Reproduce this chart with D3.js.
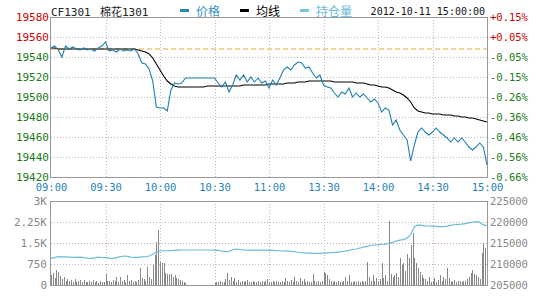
<!DOCTYPE html>
<html>
<head>
<meta charset="utf-8">
<script src="https://cdn.jsdelivr.net/npm/d3@7"></script>
<style>
  body { margin: 0; background: #fff; }
  svg { display: block; }
  text { font-family: "DejaVu Sans Mono", "Noto Sans CJK SC", monospace; }
</style>
</head>
<body>
<div id="chart"></div>
<script>
// minutes of the trading axis: 09:00-11:30 + 13:30-15:00 = 240, drawn evenly
const timeTicks = [0, 30, 60, 90, 120, 150, 180, 210, 240];
const timeLabels = ["09:00", "09:30", "10:00", "10:30", "11:00", "13:30", "14:00", "14:30", "15:00"];

const priceTicks = [19580, 19560, 19540, 19520, 19500, 19480, 19460, 19440, 19420];
const pctLabels = ["+0.15%", "+0.05%", "-0.05%", "-0.15%", "-0.26%", "-0.36%", "-0.46%", "-0.56%", "-0.66%"];
const prevSettle = 19548;

const volTicks = [0, 750, 1500, 2250, 3000];
const volLabels = ["0", "750", "1.5K", "2.25K", "3K"];
const oiTicks = [205000, 210000, 215000, 220000, 225000];
const oiLabels = ["205000", "210000", "215000", "220000", "225000"];

// one value every 2 minutes (121 points)
const price = [
  19549, 19551, 19547, 19540, 19551, 19548, 19550, 19548, 19547, 19549,
  19547, 19548, 19546, 19549, 19551, 19555, 19546, 19547, 19545, 19548,
  19546, 19547, 19546, 19548, 19543, 19534, 19533, 19528, 19516, 19490,
  19489, 19489, 19486, 19507, 19514, 19513, 19514, 19519, 19519, 19519,
  19519, 19519, 19519, 19519, 19519, 19519, 19514, 19510, 19515, 19505,
  19512, 19522, 19517, 19522, 19515, 19520, 19515, 19519, 19514, 19516,
  19509, 19517, 19512, 19519, 19527, 19530, 19527, 19532, 19535, 19534,
  19529, 19530, 19524, 19519, 19522, 19512, 19510, 19509, 19504, 19500,
  19505, 19503, 19509, 19500, 19504, 19500, 19503, 19499, 19495, 19498,
  19494, 19485, 19489, 19487, 19472, 19477, 19467, 19462, 19457, 19436,
  19452, 19465, 19469, 19465, 19462, 19465, 19469, 19465, 19462, 19459,
  19455, 19459, 19455, 19459, 19455, 19450, 19447, 19450, 19454, 19450,
  19432
];
const avgPrice = [
  19549, 19549, 19548, 19548, 19548, 19548, 19548, 19548, 19548, 19548,
  19548, 19548, 19548, 19548, 19548, 19548, 19548, 19548, 19548, 19548,
  19548, 19548, 19548, 19548, 19547, 19546, 19545, 19543, 19539, 19533,
  19527, 19521, 19516, 19513, 19511, 19510, 19510, 19510, 19510, 19510,
  19510, 19510, 19510, 19511, 19511, 19511, 19511, 19511, 19511, 19511,
  19511, 19511, 19511, 19512, 19512, 19512, 19512, 19512, 19512, 19512,
  19513, 19513, 19513, 19513, 19513, 19514, 19514, 19514, 19515, 19515,
  19515, 19516, 19516, 19516, 19516, 19516, 19516, 19516, 19515, 19515,
  19515, 19515, 19515, 19515, 19514, 19514, 19514, 19513, 19512, 19512,
  19511, 19510, 19510, 19509, 19507, 19505, 19504, 19502, 19499, 19495,
  19489, 19486, 19485, 19484, 19484, 19483, 19483, 19483, 19482, 19482,
  19482, 19481, 19481, 19480, 19480, 19479, 19479, 19478, 19477, 19476,
  19475
];
const openInterest = [
  211350, 211500, 211750, 211700, 211700, 211650, 211650, 211600, 211620, 211550,
  211400, 211350, 211450, 211650, 211550, 211500, 211400, 211350, 211500, 211700,
  211900, 211800, 211650, 211600, 211600, 211700, 211750, 211900, 212300, 212800,
  213100, 213150, 213150, 213200, 213250, 213300, 213330, 213330, 213330, 213330,
  213330, 213330, 213330, 213330, 213330, 213300, 213250, 213100, 212950, 213000,
  213400, 213570, 213450, 213350, 213300, 213300, 213280, 213280, 213300, 213280,
  213250, 213250, 213200, 213150, 213100, 213050, 213000, 212930, 212800, 212700,
  212650, 212600, 212550, 212540, 212550, 212600, 212650, 212700, 212750, 212850,
  212950, 213100, 213250, 213450, 213570, 213800, 214000, 214200, 214400, 214520,
  214600, 214700, 214750, 214900, 215150, 215480, 215700, 215800, 216200, 217000,
  218800, 219300, 219200, 219100, 219050, 219000, 218950, 218900, 218880, 219000,
  219200, 219350, 219450, 219500, 219600, 219800, 220000, 220100, 219900, 219300,
  219150
];

// one bar per minute (240 bars), 10:15-10:30 no trading
const volume = [
  350, 420, 260, 530, 470, 330, 200, 270, 160, 210,
  130, 190, 100, 210, 90, 140, 170, 110, 180, 120,
  90, 160, 110, 180, 100, 140, 80, 150, 110, 90,
  390, 130, 160, 100, 180, 130, 270, 110, 300, 130,
  180, 100, 360, 130, 180, 90, 130, 110, 190, 600,
  240, 200, 130, 650, 280, 230, 700, 1070, 1550, 1960,
  830, 780, 780, 420, 400, 400, 380, 300, 340, 250,
  200, 170, 140, 100, 80,
  0, 0, 0, 0, 0, 0, 0, 0, 0, 0, 0, 0, 0, 0, 0,
  80, 120, 90, 150, 110, 100, 200, 420, 180, 300,
  150, 240, 120, 180, 100, 150, 90, 130, 170, 110,
  100, 160, 120, 90, 150, 110, 130, 100, 160, 200,
  120, 90, 150, 100, 130, 110, 90, 160, 120, 260,
  140, 100, 180, 120, 300, 150, 110, 240, 130, 200,
  100, 150, 120, 90, 380, 130, 100, 160, 110, 140,
  475, 420, 360, 200, 150, 100, 130, 90, 150, 110,
  120, 160, 300, 140, 360, 120, 100, 150, 90, 130,
  110, 160, 120, 140, 830, 300, 150, 360, 130, 240,
  160, 200, 775, 250, 360, 150, 2300, 400, 300, 360,
  420, 300, 950, 700, 800, 500, 1100, 950, 1430, 1850,
  950, 800, 600, 450, 360, 240, 200, 150, 300, 120,
  150, 250, 120, 180, 360, 140, 300, 200, 600, 240,
  150, 120, 180, 100, 130, 150, 110, 160, 150, 200,
  300, 420, 535, 400, 360, 300, 200, 1130, 1490, 1310
];

const W = 540, H = 300;
const left = 51, right = 487;
const mainTop = 17, mainBottom = 177;
const subTop = 201, subBottom = 285;

const svg = d3.select("#chart").append("svg")
  .attr("width", W)
  .attr("height", H);

const x = d3.scaleLinear().domain([0, 240]).range([left, right]);
const y = d3.scaleLinear().domain([19420, 19580]).range([mainBottom, mainTop]);
const yVol = d3.scaleLinear().domain([0, 3000]).range([subBottom, subTop]);
const yOi = d3.scaleLinear().domain([205000, 225000]).range([subBottom, subTop]);

const red = "#d20000", green = "#1a7a1a", blue = "#2a7fb8", gray = "#888";

// header
svg.append("text").attr("x", 51).attr("y", 16).attr("font-size", 11).attr("fill", "#222").text("CF1301");
svg.append("text").attr("x", 100).attr("y", 16).attr("font-size", 11).attr("fill", "#222").text("棉花1301");

const legend = [
  { label: "价格", color: "#2a86c0", text: "#3a8fc8", x: 180 },
  { label: "均线", color: "#000", text: "#000", x: 240 },
  { label: "持仓量", color: "#7cc4e4", text: "#6ab8d8", x: 300 }
];
legend.forEach(d => {
  svg.append("rect").attr("x", d.x).attr("y", 9).attr("width", 9).attr("height", 3).attr("fill", d.color);
  svg.append("text").attr("x", d.x + 16).attr("y", 16).attr("font-size", 12)
    .attr("font-family", "Noto Sans CJK SC").attr("fill", d.text).text(d.label);
});
svg.append("text").attr("x", 485).attr("y", 15).attr("text-anchor", "end")
  .attr("font-size", 10).attr("fill", "#111").text("2012-10-11 15:00:00");

// grids
const grid = svg.append("g").attr("shape-rendering", "crispEdges")
  .attr("stroke", "#bbb").attr("stroke-dasharray", "1,2");
grid.selectAll(".hm").data(priceTicks.slice(1, -1)).join("line")
  .attr("x1", left).attr("x2", right)
  .attr("y1", d => Math.round(y(d)) + 0.5).attr("y2", d => Math.round(y(d)) + 0.5);
grid.selectAll(".hs").data(volTicks.slice(1, -1)).join("line")
  .attr("x1", left).attr("x2", right)
  .attr("y1", d => Math.round(yVol(d)) + 0.5).attr("y2", d => Math.round(yVol(d)) + 0.5)
  .attr("stroke", d => d === 1500 ? "#d0a0a0" : "#bbb");
grid.selectAll(".v").data(timeTicks.slice(1, -1)).join("g").each(function (d) {
  const xx = Math.round(x(d)) + 0.5;
  d3.select(this).append("line").attr("x1", xx).attr("x2", xx).attr("y1", mainTop).attr("y2", mainBottom);
  d3.select(this).append("line").attr("x1", xx).attr("x2", xx).attr("y1", subTop).attr("y2", subBottom);
});

// frames
[[mainTop, mainBottom], [subTop, subBottom]].forEach(([t, b]) => {
  svg.append("rect").attr("x", left - 0.5).attr("y", t + 0.5)
    .attr("width", right - left + 1).attr("height", b - t)
    .attr("fill", "none").attr("stroke", "#999").attr("shape-rendering", "crispEdges");
});

// previous settlement
svg.append("line").attr("x1", left).attr("x2", right)
  .attr("y1", y(prevSettle)).attr("y2", y(prevSettle))
  .attr("stroke", "#e8a832").attr("stroke-dasharray", "5,3");

// volume bars
svg.append("g").attr("shape-rendering", "crispEdges")
  .selectAll("line").data(volume).join("line")
  .attr("x1", (d, i) => Math.round(x(i)) + 0.5).attr("x2", (d, i) => Math.round(x(i)) + 0.5)
  .attr("y1", yVol(0)).attr("y2", d => yVol(d))
  .attr("stroke", d => d > 0 ? gray : "none");

// lines
const line = yy => d3.line().x((d, i) => x(i * 2)).y(d => yy(d));
svg.append("path").datum(openInterest).attr("d", line(yOi))
  .attr("fill", "none").attr("stroke", "#6cbcd6").attr("stroke-width", 1.2);
svg.append("path").datum(avgPrice).attr("d", line(y))
  .attr("fill", "none").attr("stroke", "#000").attr("stroke-width", 1.1);
svg.append("path").datum(price).attr("d", line(y))
  .attr("fill", "none").attr("stroke", "#1f7db2").attr("stroke-width", 1.1);

// axes
const axisText = (g, size) => {
  g.select(".domain").remove();
  g.selectAll("line").remove();
  g.selectAll("text").attr("font-family", "DejaVu Sans Mono").attr("font-size", size || 11);
};

svg.append("g").attr("transform", `translate(${left - 2},0)`)
  .call(d3.axisLeft(y).tickValues(priceTicks).tickSize(0).tickPadding(0).tickFormat(d3.format("d")))
  .call(axisText)
  .selectAll("text").attr("fill", d => d > prevSettle ? red : green);

svg.append("g").attr("transform", `translate(${right + 3},0)`)
  .call(d3.axisRight(y).tickValues(priceTicks).tickSize(0).tickPadding(0)
    .tickFormat((d, i) => pctLabels[i]))
  .call(g => axisText(g, 10.5))
  .selectAll("text").attr("fill", d => d > prevSettle ? red : green);

svg.append("g").attr("transform", `translate(0,${mainBottom + 7})`)
  .call(d3.axisBottom(x).tickValues(timeTicks).tickSize(0).tickPadding(0)
    .tickFormat((d, i) => timeLabels[i]))
  .call(g => axisText(g, 10.5))
  .selectAll("text").attr("fill", blue);

svg.append("g").attr("transform", `translate(${left - 4},0)`)
  .call(d3.axisLeft(yVol).tickValues(volTicks).tickSize(0).tickPadding(0)
    .tickFormat((d, i) => volLabels[i]))
  .call(axisText)
  .selectAll("text").attr("fill", gray);

svg.append("g").attr("transform", `translate(${right + 3},0)`)
  .call(d3.axisRight(yOi).tickValues(oiTicks).tickSize(0).tickPadding(0)
    .tickFormat((d, i) => oiLabels[i]))
  .call(g => axisText(g, 10.5))
  .selectAll("text").attr("fill", gray);
</script>
</body>
</html>
